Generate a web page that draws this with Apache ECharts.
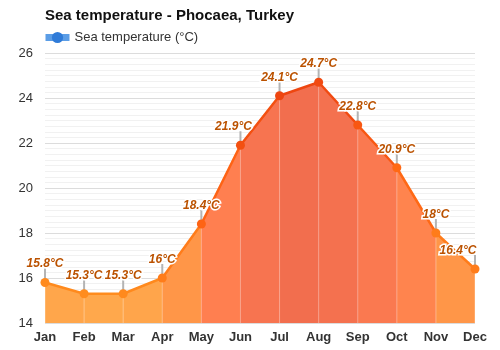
<!DOCTYPE html>
<html>
<head>
<meta charset="utf-8">
<script src="https://cdn.jsdelivr.net/npm/echarts@6/dist/echarts.min.js"></script>
<style>html,body{margin:0;padding:0;background:#fff}#c{width:500px;height:350px}</style>
</head>
<body>
<div id="c"></div>
<script>
var months = ['Jan','Feb','Mar','Apr','May','Jun','Jul','Aug','Sep','Oct','Nov','Dec'];
var seaTemp = [15.8, 15.3, 15.3, 16, 18.4, 21.9, 24.1, 24.7, 22.8, 20.9, 18, 16.4];
var yTicks = {min: 14, max: 26, step: 2};

// colour ramps (style)
var areaRamp = [[15.3,[255,168,76]],[17.2,[255,150,72]],[20,[255,128,80]],[23,[247,116,80]],[24.4,[242,110,78]]];
var lineRamp = [[15.3,[255,140,30]],[20,[255,100,20]],[24.4,[238,70,16]]];
function ramp(r, t){
  if (t <= r[0][0]) return r[0][1];
  for (var i=1;i<r.length;i++){
    if (t <= r[i][0]) {
      var a=r[i-1], b=r[i], f=(t-a[0])/(b[0]-a[0]);
      return a[1].map(function(v,k){return Math.round(v+(b[1][k]-v)*f);});
    }
  }
  return r[r.length-1][1];
}
function rgb(c){return 'rgb('+c.join(',')+')';}
function pieces(r){
  var p=[];
  for (var i=0;i<seaTemp.length-1;i++){
    var m=(seaTemp[i]+seaTemp[i+1])/2;
    p.push({gte:i, lt:i+1, color: rgb(ramp(r,m))});
  }
  var last = seaTemp.length-1;
  p.push({gte:last, lte:last, color: rgb(ramp(r,(seaTemp[last-1]+seaTemp[last])/2))});
  return p;
}

var font = "'Liberation Sans', Arial, sans-serif";
var chart = echarts.init(document.getElementById('c'), null, {renderer:'canvas'});
chart.setOption({
  animation:false,
  textStyle:{fontFamily:font},
  title:{text:'Sea temperature - Phocaea, Turkey', left:40, top:3,
    textStyle:{fontSize:15, fontWeight:'bold', color:'#111', fontFamily:font}},
  legend:{left:37, top:26, itemWidth:24, itemHeight:14, itemGap:10,
    textStyle:{fontSize:13, color:'#333', fontFamily:font},
    data:[{name:'Sea temperature (°C)',
      itemStyle:{color:'#2f7bd8'}, lineStyle:{color:'#5b9de6', width:7}}]},
  grid:{left:45, right:25, top:53, bottom:27},
  visualMap:[
    {show:false, type:'piecewise', dimension:0, seriesIndex:0, pieces:pieces(areaRamp)},
    {show:false, type:'piecewise', dimension:0, seriesIndex:3, pieces:pieces(lineRamp)}
  ],
  xAxis:{type:'category', data:months, boundaryGap:false,
    axisLine:{show:false}, axisTick:{show:false},
    axisLabel:{fontSize:13, fontWeight:'bold', color:'#333', margin:8, fontFamily:font},
    splitLine:{show:false}},
  yAxis:{type:'value', min:yTicks.min, max:yTicks.max, interval:yTicks.step,
    axisLine:{show:false}, axisTick:{show:false},
    axisLabel:{fontSize:13, color:'#333', margin:12, fontFamily:font},
    splitLine:{lineStyle:{color:'#dcdcdc', width:1}},
    minorTick:{show:false, splitNumber:8},
    minorSplitLine:{show:true, lineStyle:{color:'#f1f1f1', width:1}}},
  series:[
    {type:'line', name:'area', data:seaTemp, symbol:'none', z:1,
      lineStyle:{width:0}, areaStyle:{opacity:1}, silent:true},
    {type:'bar', name:'sep', data:seaTemp, barWidth:1, z:2, clip:true, silent:true,
      itemStyle:{color:'rgba(255,255,255,0.35)'}},
    {type:'custom', name:'ticks', data:seaTemp.map(function(v,i){return [i,v];}), z:3, silent:true,
      renderItem:function(params, api){
        var p = api.coord([api.value(0), api.value(1)]);
        return {type:'line', shape:{x1:p[0], y1:p[1], x2:p[0], y2:p[1]-14},
          style:{stroke:'#b4b4b4', lineWidth:2}};
      }},
    {type:'line', name:'Sea temperature (°C)', data:seaTemp.map(function(v,i){
        var d={value:v};
        if (i===5) d.label={offset:[-7,0]};
        if (i===seaTemp.length-1) d.label={offset:[-17,0]};
        return d;
      }), z:4,
      symbol:'circle', symbolSize:9, lineStyle:{width:2.5},
      label:{show:true, position:'top', distance:8, formatter:'{c}°C',
        fontSize:12, fontWeight:'bold', fontStyle:'italic', color:'#bb5200',
        textBorderColor:'#fff', textBorderWidth:3, fontFamily:font}}
  ]
});
</script>
</body>
</html>
